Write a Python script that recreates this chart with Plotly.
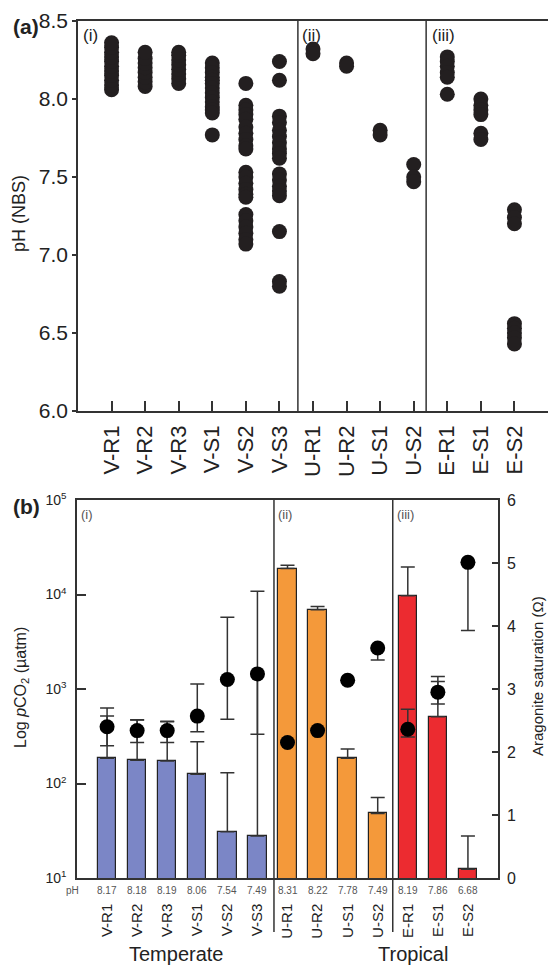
import plotly.graph_objects as go

W, H = 548, 966
FONT = "Liberation Sans, Arial, sans-serif"
INK = "#231f20"
LINE = "#333333"

categories = ["V-R1", "V-R2", "V-R3", "V-S1", "V-S2", "V-S3",
              "U-R1", "U-R2", "U-S1", "U-S2", "E-R1", "E-S1", "E-S2"]

# ---- panel (a): individual pH (NBS) measurements per site ----
ph_VR1 = [8.06, 8.09, 8.12, 8.15, 8.18, 8.21, 8.24, 8.27, 8.30, 8.33, 8.36]
ph_VR2 = [8.08, 8.11, 8.14, 8.17, 8.20, 8.23, 8.26, 8.30]
ph_VR3 = [8.10, 8.13, 8.16, 8.19, 8.22, 8.25, 8.28, 8.30]
ph_VS1 = [8.23, 8.20, 8.17, 8.14, 8.12, 8.10, 8.07, 8.04, 8.01, 7.98, 7.95, 7.93, 7.91, 7.77]
ph_VS2 = [8.10, 7.96, 7.93, 7.90, 7.87, 7.82, 7.78, 7.74, 7.70, 7.68, 7.53, 7.50, 7.46,
          7.42, 7.39, 7.37, 7.26, 7.22, 7.18, 7.14, 7.10, 7.07]
ph_VS3 = [8.24, 8.12, 7.89, 7.85, 7.80, 7.76, 7.72, 7.68, 7.65, 7.62, 7.52, 7.48, 7.44,
          7.41, 7.38, 7.15, 6.83, 6.80]
ph_UR1 = [8.32, 8.29]
ph_UR2 = [8.23, 8.21]
ph_US1 = [7.80, 7.77]
ph_US2 = [7.58, 7.50, 7.47]
ph_ER1 = [8.27, 8.24, 8.21, 8.17, 8.14, 8.03]
ph_ES1 = [8.00, 7.96, 7.93, 7.90, 7.78, 7.74]
ph_ES2 = [7.29, 7.24, 7.20, 6.56, 6.53, 6.50, 6.47, 6.43]

ph_by_site = [ph_VR1, ph_VR2, ph_VR3, ph_VS1, ph_VS2, ph_VS3,
              ph_UR1, ph_UR2, ph_US1, ph_US2, ph_ER1, ph_ES1, ph_ES2]

# ---- panel (b): mean pCO2 (bars), upper error, aragonite saturation (dots) ----
pco2_mean = [185, 176, 173, 125, 30.8, 27.9, 18800, 6900, 185, 48.2, 9700, 509, 12.4]
pco2_upper = [519, 470, 451, 277, 130, 10800, 20400, 7480, 232, 71.3, 19600, 1200, 27.8]
omega = [2.40, 2.34, 2.34, 2.57, 3.15, 3.24, 2.15, 2.34, 3.14, 3.65, 2.36, 2.95, 5.01]
omega_err_plus = [0.30, 0.17, 0.15, 0.51, 0.99, 0.0, 0.0, 0.0, 0.0, 0.0, 0.32, 0.25, 0.0]
omega_err_minus = [0.30, 0.19, 0.19, 0.25, 0.63, 0.96, 0.0, 0.0, 0.0, 0.19, 0.12, 0.19, 1.08]
ph_mean_labels = ["8.17", "8.18", "8.19", "8.06", "7.54", "7.49",
                  "8.31", "8.22", "7.78", "7.49", "8.19", "7.86", "6.68"]
bar_colors = ["#7b86c6"] * 6 + ["#f4993a"] * 4 + ["#ec2b30"] * 3

region_labels = ["(i)", "(ii)", "(iii)"]
group_labels = ["Temperate", "Tropical"]

xpos = list(range(len(categories)))

fig = go.Figure()

# panel (a) scatter
xs, ys = [], []
for i, vals in enumerate(ph_by_site):
    xs += [i] * len(vals)
    ys += vals
fig.add_trace(go.Scatter(x=xs, y=ys, mode="markers", xaxis="x", yaxis="y",
                         marker=dict(size=15, color=INK, line=dict(width=0)),
                         showlegend=False, hoverinfo="skip"))

# panel (b) bars
fig.add_trace(go.Bar(x=xpos, y=pco2_mean, xaxis="x2", yaxis="y2", width=0.61,
                     marker=dict(color=bar_colors, line=dict(color="#222222", width=1.2)),
                     error_y=dict(type="data", symmetric=False,
                                  array=[u - m for u, m in zip(pco2_upper, pco2_mean)],
                                  arrayminus=[0] * len(pco2_mean),
                                  color=LINE, thickness=1.5, width=7),
                     showlegend=False, hoverinfo="skip"))
# panel (b) aragonite saturation dots
fig.add_trace(go.Scatter(x=xpos, y=omega, mode="markers", xaxis="x2", yaxis="y3",
                         marker=dict(size=15, color="#000000"),
                         error_y=dict(type="data", symmetric=False,
                                      array=omega_err_plus, arrayminus=omega_err_minus,
                                      color=LINE, thickness=1.5, width=7),
                         showlegend=False, hoverinfo="skip"))

def py(px):
    return 1 - px / H

def pxx(px):
    return px / W

axfont = dict(family=FONT, color="#222222")

fig.update_layout(
    width=W, height=H, margin=dict(l=0, r=0, t=0, b=0, autoexpand=False),
    paper_bgcolor="white", plot_bgcolor="white",
    font=dict(family=FONT, color="#222222"),
    bargap=0,
    xaxis=dict(domain=[pxx(78), 1.0], anchor="y", range=[-1, 13], automargin=False,
               tickmode="array", tickvals=xpos, ticktext=categories, tickangle=-90,
               ticks="inside", ticklen=10, tickwidth=1.5, tickcolor=LINE,
               ticklabelstandoff=4,
               showline=True, linecolor=LINE, linewidth=1.5, mirror=True,
               showgrid=False, zeroline=False, tickfont=dict(size=22, **axfont)),
    yaxis=dict(domain=[py(411), py(21)], anchor="x", range=[6, 8.5], automargin=False,
               tickmode="array", tickvals=[6, 6.5, 7, 7.5, 8, 8.5],
               ticktext=["6.0", "6.5", "7.0", "7.5", "8.0", "8.5"],
               ticks="outside", ticklen=4, tickwidth=1.5, tickcolor=LINE,
               showline=True, linecolor=LINE, linewidth=1.5,
               showgrid=False, zeroline=False, tickfont=dict(size=21, **axfont)),
    xaxis2=dict(domain=[pxx(77), pxx(498)], anchor="y2", range=[-1, 13], automargin=False,
                tickmode="array", tickvals=xpos, ticktext=categories, tickangle=-90,
                ticks="", ticklabelstandoff=18,
                showline=True, linecolor=LINE, linewidth=1.5, mirror=True,
                showgrid=False, zeroline=False, tickfont=dict(size=15, **axfont)),
    xaxis3=dict(overlaying="x2", anchor="y2", side="top", range=[-1, 13], automargin=False,
                tickmode="array", tickvals=xpos,
                ticks="inside", ticklen=6,
                tickwidth=1.5, tickcolor=LINE, showticklabels=False,
                showline=False, showgrid=False, zeroline=False),
    yaxis2=dict(domain=[py(878), py(500)], anchor="x2", type="log", range=[1, 5],
                automargin=False,
                tickmode="array", tickvals=[10, 100, 1000, 10000, 100000],
                ticktext=["10<sup>1</sup>", "10<sup>2</sup>", "10<sup>3</sup>",
                          "10<sup>4</sup>", "10<sup>5</sup>"],
                ticks="inside", ticklen=9, tickwidth=1.5, tickcolor=LINE,
                ticklabelstandoff=6,
                showline=True, linecolor=LINE, linewidth=1.5,
                showgrid=False, zeroline=False, tickfont=dict(size=14, **axfont)),
    yaxis3=dict(overlaying="y2", anchor="x2", side="right", range=[0, 6], automargin=False,
                tickmode="array", tickvals=[0, 1, 2, 3, 4, 5, 6],
                ticks="inside", ticklen=6, tickwidth=1.5, tickcolor=LINE,
                ticklabelstandoff=4,
                showline=True, linecolor=LINE, linewidth=1.5,
                showgrid=False, zeroline=False, tickfont=dict(size=16, **axfont)),
)

# dividers
shapes = []
for xv in [5.55, 9.37]:
    shapes.append(dict(type="line", xref="x", yref="y", x0=xv, x1=xv, y0=6, y1=8.5,
                       line=dict(color=LINE, width=1.5)))
for xv in [5.55, 9.5]:
    shapes.append(dict(type="line", xref="x2", yref="paper", x0=xv, x1=xv,
                       y0=py(932), y1=py(500), line=dict(color=LINE, width=1.5)))
fig.update_layout(shapes=shapes)

ann = []
# axis titles
ann.append(dict(text="pH (NBS)", xref="paper", yref="paper", x=pxx(19), y=py(214),
                textangle=-90, xanchor="center", yanchor="middle", showarrow=False,
                font=dict(size=18, family=FONT, color="#222222")))
ann.append(dict(text="Log <i>p</i>CO<sub>2</sub> (µatm)", xref="paper", yref="paper",
                x=pxx(21), y=py(688), textangle=-90, xanchor="center", yanchor="middle",
                showarrow=False, font=dict(size=16, family=FONT, color="#222222")))
ann.append(dict(text="Aragonite saturation (Ω)", xref="paper", yref="paper",
                x=pxx(537), y=py(676), textangle=-90, xanchor="center", yanchor="middle",
                showarrow=False, font=dict(size=15, family=FONT, color="#222222")))
# panel letters
ann.append(dict(text="<b>(a)</b>", xref="paper", yref="paper", x=pxx(11), y=py(27),
                xanchor="left", yanchor="middle", showarrow=False,
                font=dict(size=21, family=FONT, color="#222222")))
ann.append(dict(text="<b>(b)</b>", xref="paper", yref="paper", x=pxx(11), y=py(506),
                xanchor="left", yanchor="middle", showarrow=False,
                font=dict(size=21, family=FONT, color="#222222")))
# region numerals panel (a)
for lbl, xp in zip(region_labels, [81, 300, 430]):
    ann.append(dict(text=lbl, xref="paper", yref="paper", x=pxx(xp), y=py(35),
                    xanchor="left", yanchor="middle", showarrow=False,
                    font=dict(size=17, family=FONT, color="#222222")))
# region numerals panel (b)
for lbl, xp in zip(region_labels, [79, 276, 395]):
    ann.append(dict(text=lbl, xref="paper", yref="paper", x=pxx(xp), y=py(514),
                    xanchor="left", yanchor="middle", showarrow=False,
                    font=dict(size=13, family=FONT, color="#555555")))
# pH means row
ann.append(dict(text="pH", xref="paper", yref="paper", x=pxx(72), y=py(890),
                xanchor="center", yanchor="middle", showarrow=False,
                font=dict(size=10, family=FONT, color="#555555")))
for xv, lbl in zip(xpos, ph_mean_labels):
    ann.append(dict(text=lbl, xref="x2", yref="paper", x=xv, y=py(890),
                    xanchor="center", yanchor="middle", showarrow=False,
                    font=dict(size=10, family=FONT, color="#555555")))
# group labels
for lbl, xp in zip(group_labels, [176, 413]):
    ann.append(dict(text=lbl, xref="paper", yref="paper", x=pxx(xp), y=py(954),
                    xanchor="center", yanchor="middle", showarrow=False,
                    font=dict(size=20, family=FONT, color="#222222")))
fig.update_layout(annotations=ann)

fig.write_html("out.html", config={"displayModeBar": False},
               post_script="document.body.style.margin='0px';")
